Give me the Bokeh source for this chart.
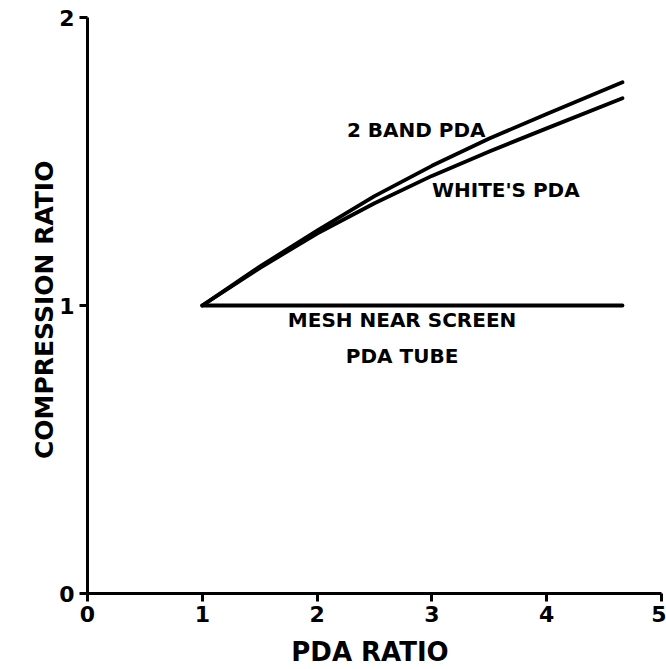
from bokeh.plotting import figure
from bokeh.models import Range1d, FixedTicker
from bokeh.core.properties import value
from bokeh.embed import file_html
from bokeh.resources import INLINE

# Data
pda_ratio = [1.0, 1.5, 2.0, 2.5, 3.0, 3.5, 4.0, 4.66]
two_band_pda = [1.0, 1.135, 1.26, 1.38, 1.485, 1.58, 1.665, 1.775]
whites_pda = [1.0, 1.13, 1.25, 1.355, 1.45, 1.535, 1.615, 1.72]
mesh_x = [1.0, 4.66]
mesh_y = [1.0, 1.0]

x_ticks = [0, 1, 2, 3, 4, 5]
y_ticks = [0, 1, 2]

label_texts_left = ["2 BAND  PDA", "WHITE'S PDA"]
label_x_left = [2.26, 3.0]
label_y_left = [1.61, 1.40]

label_texts_center = ["MESH NEAR SCREEN", "PDA TUBE"]
label_x_center = [2.74, 2.74]
label_y_center = [0.948, 0.826]

FONT = "DejaVu Sans"

p = figure(width=666, height=669, output_backend="svg", toolbar_location=None,
           x_range=Range1d(0, 5), y_range=Range1d(0, 2),
           min_border_left=87, min_border_right=5, min_border_top=17, min_border_bottom=76)
p.outline_line_color = None
p.xgrid.visible = False
p.ygrid.visible = False
p.background_fill_color = "white"
p.border_fill_color = "white"

for ax in (p.xaxis[0], p.yaxis[0]):
    ax.axis_line_width = 3
    ax.axis_line_color = "black"
    ax.major_tick_line_width = 3
    ax.major_tick_line_color = "black"
    ax.major_tick_out = 8
    ax.major_tick_in = 0
    ax.minor_tick_line_color = None
    ax.major_label_text_font = FONT
    ax.major_label_text_font_style = "bold"
    ax.major_label_text_font_size = "22px"
    ax.major_label_text_color = "black"
    ax.axis_label_text_font = FONT
    ax.axis_label_text_font_style = "bold"
    ax.axis_label_text_color = "black"

p.xaxis.ticker = FixedTicker(ticks=x_ticks)
p.yaxis.ticker = FixedTicker(ticks=y_ticks)
p.xaxis.axis_label = "PDA  RATIO"
p.yaxis.axis_label = "COMPRESSION  RATIO"
p.xaxis.axis_label_text_font_size = "26px"
p.yaxis.axis_label_text_font_size = "25px"
p.xaxis.major_label_standoff = 4
p.yaxis.major_label_standoff = 5
p.xaxis.axis_label_standoff = 12
p.yaxis.axis_label_standoff = -3

p.line(pda_ratio, two_band_pda, line_width=3.8, color="black", line_cap="round", line_join="round")
p.line(pda_ratio, whites_pda, line_width=3.8, color="black", line_cap="round", line_join="round")
p.line(mesh_x, mesh_y, line_width=3.8, color="black", line_cap="round")

p.text(label_x_left, label_y_left, text=label_texts_left, text_font=value(FONT),
       text_font_style="bold", text_font_size="20px", text_align="left",
       text_baseline="middle", text_color="black")
p.text(label_x_center, label_y_center, text=label_texts_center, text_font=value(FONT),
       text_font_style="bold", text_font_size="20px", text_align="center",
       text_baseline="middle", text_color="black")

open("out.html", "w").write(file_html(p, INLINE))
